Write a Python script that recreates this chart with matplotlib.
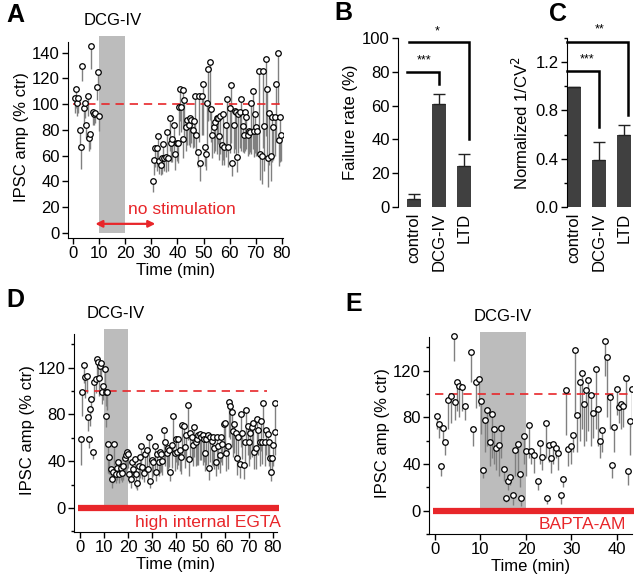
import numpy as np
import matplotlib
matplotlib.use("Agg")
import matplotlib.pyplot as plt
from matplotlib.ticker import MultipleLocator

plt.rcParams['font.family'] = ['Liberation Sans', 'DejaVu Sans']
plt.rcParams['font.size'] = 12

RED = '#e8262a'
SHADE = '#bcbcbc'
BAR = '#404040'
STEM = '#808080'

# ---- panel A: IPSC amplitude, DCG-IV then no stimulation
tA = [0.5, 1, 1.5, 2, 2.5, 3, 3.5, 4, 4.5, 5,
      5.5, 6, 6.5, 7, 7.5, 8, 8.5, 9, 9.5, 10,
      30.5, 31, 31.5, 32, 32.5, 33, 33.5, 34, 34.6, 35,
      35.6, 36, 36.5, 37.2, 37.7, 38, 38.7, 39, 39.7, 40.2,
      40.7, 41, 41.5, 42, 42.3, 42.7, 43.2, 43.8, 44.3, 44.8,
      45.3, 45.8, 46.3, 46.8, 47.3, 47.8, 48.3, 48.8, 49.4, 49.9,
      50.4, 50.9, 51.4, 51.9, 52.4, 52.9, 53.4, 54, 54.5, 55,
      55.5, 56, 56.5, 57, 57.5, 58, 58.6, 59, 59.5, 60,
      60.6, 61, 61.6, 62, 62.6, 63, 63.3, 63.9, 64.4, 65,
      65.4, 66, 66.4, 67, 67.5, 68, 68.4, 69, 69.5, 69.7,
      70.2, 70.7, 71.3, 71.7, 72.3, 72.8, 73.3, 73.8, 74.3, 74.8,
      75.3, 75.8, 76.3, 76.8, 77.3, 77.9, 78.4, 78.9, 79.4, 79.9]
vA = [105, 112, 101, 105, 80, 67, 130, 97, 101, 84,
      106, 74, 77, 145, 94, 92, 93, 113, 125, 91,
      40, 57, 66, 66, 75, 56, 53, 58, 69, 58,
      59, 78, 58, 89, 70, 73, 84, 61, 70, 70,
      98, 112, 98, 111, 73, 103, 82, 88, 84, 89,
      88, 80, 87, 106, 76, 63, 106, 54, 106, 116,
      67, 61, 101, 127, 133, 96, 76, 82, 86, 89,
      89, 75, 91, 68, 92, 67, 84, 104, 67, 97,
      115, 54, 84, 95, 94, 59, 92, 94, 104, 83,
      76, 94, 90, 76, 79, 78, 101, 110, 79, 92,
      82, 79, 126, 61, 60, 126, 83, 135, 112, 58,
      93, 60, 90, 82, 90, 116, 140, 72, 90, 76]
eA = [12, 15, 10, 12, 12, 17, 12, 14, 12, 10,
      15, 10, 12, 18, 10, 8, 8, 10, 10, 12,
      8, 12, 15, 18, 20, 10, 8, 12, 14, 10,
      12, 20, 10, 25, 15, 18, 20, 12, 14, 16,
      22, 25, 20, 30, 15, 28, 18, 20, 16, 22,
      18, 14, 20, 30, 15, 12, 35, 14, 30, 40,
      15, 12, 35, 40, 45, 25, 18, 20, 22, 28,
      20, 18, 30, 15, 35, 14, 25, 40, 16, 35,
      45, 10, 22, 30, 35, 12, 30, 28, 40, 20,
      14, 30, 25, 16, 18, 15, 40, 45, 20, 30,
      22, 18, 64, 20, 22, 60, 35, 60, 55, 22,
      40, 20, 35, 25, 30, 45, 40, 20, 35, 20]

# ---- panels B and C
groups = ['control', 'DCG-IV', 'LTD']
fail_rate = [5, 61, 24]
fail_err = [2.5, 6, 7.5]
inv_cv2 = [0.99, 0.39, 0.60]
inv_cv2_err = [0.005, 0.145, 0.08]

# ---- panel D: high internal EGTA
tD = [0.4, 1, 1.5, 2.2, 2.8, 3.2, 3.6, 4.1, 4.7, 5.4,
      5.9, 6.5, 6.9, 7.6, 8, 8.3, 8.7, 9.1, 9.7, 10.2,
      10.6, 10.8, 11.3, 11.7, 12.1, 12.7, 13.1, 13.8, 14.2, 14.8,
      15.2, 15.9, 16.3, 16.8, 17.4, 17.9, 18.5, 18.9, 19.3, 19.9,
      20.4, 21, 21.5, 22, 22.6, 23.2, 23.7, 24.3, 24.8, 25.4,
      25.9, 26.5, 27, 27.6, 28.1, 28.7, 29.2, 29.8, 30.3, 30.9,
      31.4, 32, 32.6, 33.1, 33.7, 34.2, 34.8, 35.3, 35.9, 36.4,
      37, 37.5, 38.1, 38.6, 39.2, 39.7, 40.3, 40.8, 41.4, 42,
      42.5, 43, 43.6, 44.1, 44.7, 45.2, 45.8, 46.3, 46.9, 47.4,
      48, 48.6, 49.1, 49.7, 50.2, 50.8, 51.3, 51.9, 52.4, 53,
      53.5, 54.1, 54.6, 55.2, 55.7, 56.3, 56.8, 57.4, 58, 58.5,
      59, 59.6, 60.1, 60.7, 61.2, 61.8, 62.3, 62.9, 63.4, 64,
      64.6, 65.1, 65.7, 66.2, 66.8, 67.3, 67.9, 68.4, 69, 69.5,
      70, 70.6, 71.2, 71.7, 72.3, 72.8, 73.4, 73.9, 74.5, 75,
      75.6, 76.1, 76.7, 77.2, 77.8, 78.3, 78.6, 79.2, 79.7, 80,
      80.7, 81]
vD = [59, 99, 122, 112, 113, 78, 59, 85, 93, 48,
      108, 110, 127, 125, 111, 121, 124, 99, 104, 119,
      99, 79, 99, 55, 44, 33, 25, 31, 55, 29,
      34, 39, 29, 34, 30, 36, 43, 45, 48, 46,
      29, 25, 39, 33, 42, 29, 21, 36, 44, 53,
      35, 30, 46, 50, 33, 61, 23, 41, 39, 53,
      31, 46, 39, 48, 46, 40, 67, 56, 47, 51,
      50, 31, 54, 79, 47, 59, 48, 59, 50, 44,
      71, 70, 52, 62, 88, 42, 64, 61, 54, 69,
      56, 59, 62, 63, 61, 62, 59, 47, 59, 62,
      34, 61, 57, 61, 51, 39, 61, 53, 45, 61,
      55, 72, 73, 47, 53, 91, 87, 82, 66, 72,
      64, 43, 61, 38, 80, 64, 37, 56, 84, 70,
      56, 64, 69, 73, 48, 51, 76, 67, 56, 74,
      56, 90, 56, 67, 63, 56, 43, 31, 43, 54,
      90, 65]
eD = [22, 20, 15, 18, 15, 12, 8, 15, 12, 6,
      15, 12, 15, 12, 15, 12, 15, 10, 12, 15,
      12, 10, 15, 25, 15, 10, 8, 10, 18, 8,
      10, 12, 8, 10, 8, 12, 15, 14, 15, 12,
      8, 8, 12, 10, 15, 12, 6, 15, 18, 20,
      10, 8, 15, 18, 10, 25, 6, 15, 12, 20,
      8, 15, 12, 18, 15, 12, 25, 20, 15, 18,
      15, 8, 20, 30, 15, 20, 15, 22, 18, 15,
      25, 25, 18, 20, 30, 15, 22, 20, 18, 25,
      20, 22, 25, 22, 20, 25, 20, 15, 22, 25,
      10, 22, 20, 25, 18, 12, 25, 20, 15, 22,
      18, 25, 28, 15, 20, 30, 28, 30, 22, 25,
      22, 15, 20, 12, 28, 22, 12, 20, 30, 25,
      20, 22, 25, 28, 15, 18, 28, 22, 20, 25,
      18, 30, 20, 22, 20, 20, 15, 8, 15, 18,
      25, 20]

# ---- panel E: BAPTA-AM
tE = [0.4, 0.9, 1.3, 1.8, 2.3, 2.9, 3.5, 4.1, 4.4, 4.9,
      5.4, 5.9, 6.5, 7.9, 8.4, 9, 9.6, 10.1, 10.5, 11,
      11.5, 12.1, 12.6, 13, 13.4, 14, 14.6, 15.1, 15.6, 16,
      16.5, 17.1, 17.6, 18.2, 18.6, 19, 19.6, 20.1, 20.7, 21.2,
      21.7, 22.6, 23.1, 23.6, 24.3, 24.6, 25.1, 25.6, 26, 26.6,
      27.1, 27.6, 28.2, 28.8, 29.2, 29.8, 30.3, 30.8, 31.3, 31.8,
      32.3, 32.8, 33.2, 33.7, 34.3, 34.8, 35.4, 35.9, 36.3, 36.8,
      37.4, 37.9, 38.4, 38.9, 39.4, 39.9, 40.4, 40.9, 41.4, 41.9,
      42.4, 42.9, 43.4]
vE = [81, 74, 38, 71, 59, 95, 98, 150, 93, 110,
      107, 106, 90, 136, 70, 110, 113, 94, 35, 78,
      86, 59, 83, 70, 54, 56, 71, 36, 11, 25,
      29, 13, 52, 57, 31, 11, 64, 51, 73, 51,
      48, 25, 58, 46, 75, 11, 56, 45, 57, 54,
      49, 13, 27, 103, 53, 55, 65, 138, 82, 110,
      118, 91, 103, 112, 99, 84, 121, 87, 60, 69,
      145, 132, 97, 39, 72, 104, 89, 91, 90, 114,
      34, 77, 104]
eE = [11, 12, 8, 13, 11, 25, 23, 22, 15, 25,
      27, 21, 12, 26, 15, 22, 23, 28, 7, 28,
      31, 21, 38, 30, 19, 26, 26, 11, 4, 7,
      7, 8, 22, 27, 11, 7, 24, 21, 28, 11,
      16, 7, 18, 11, 30, 5, 14, 13, 17, 9,
      14, 7, 7, 38, 15, 15, 15, 58, 32, 50,
      48, 36, 43, 44, 44, 22, 51, 32, 15, 19,
      30, 52, 27, 11, 22, 22, 14, 21, 18, 24,
      12, 29, 32]

W, H = 640, 580
fig = plt.figure(figsize=(W / 100, H / 100), dpi=100)


def px_axes(l, t, r, b):
    return fig.add_axes([l / W, 1 - b / H, (r - l) / W, (b - t) / H])


def style(ax, bottom=True):
    for s in ['top', 'right']:
        ax.spines[s].set_visible(False)
    if not bottom:
        ax.spines['bottom'].set_visible(False)
    ax.tick_params(direction='out', length=4, width=1, pad=2)
    ax.tick_params(which='minor', direction='out', length=2.5, width=1)


def timecourse(ax, t, v, e):
    t = np.array(t)
    v = np.array(v)
    e = np.array(e)
    ax.vlines(t, v - e, v, color=STEM, lw=1.0, zorder=2)
    ax.plot(t, v, 'o', ms=4.0, mfc='white', mec='black', mew=0.9, zorder=3)


# ---------------- A
axA = px_axes(68, 36, 283, 238)
style(axA)
axA.set_xlim(-2, 80.5)
axA.set_ylim(-4, 153)
axA.spines['left'].set_bounds(-4, 148)
axA.axvspan(10, 20, ymin=4 / 157, ymax=1, color=SHADE, lw=0, zorder=1)
axA.plot([0, 80], [100, 100], color=RED, lw=1.2, ls=(0, (5, 3.5)), zorder=2.5)
timecourse(axA, tA, vA, eA)
axA.annotate('', xy=(8.5, 7), xytext=(31.5, 7),
             arrowprops=dict(arrowstyle='<|-|>', color=RED, lw=1.6,
                             mutation_scale=10, shrinkA=0, shrinkB=0))
axA.text(21, 18, 'no stimulation', color=RED, fontsize=12.5, va='center', ha='left')
axA.text(15, 165, 'DCG-IV', ha='center', va='center', fontsize=12)
axA.set_xticks(range(0, 81, 10))
axA.set_yticks(range(0, 141, 20))
axA.set_xlabel('Time (min)', labelpad=1)
axA.set_ylabel('IPSC amp (% ctr)', labelpad=2)
fig.text(15 / W, 1 - 15 / H, 'A', fontsize=18, fontweight='bold', ha='center', va='center')


# ---------------- B and C
def bars(ax, vals, errs):
    x = np.arange(len(groups))
    ax.bar(x, vals, width=0.58, color=BAR, zorder=2)
    ax.errorbar(x, vals, yerr=[np.zeros(len(vals)), errs], fmt='none',
                ecolor='#222222', elinewidth=1, capsize=4.5, capthick=1, zorder=3)
    ax.set_xticks(x)
    ax.set_xticklabels(groups, rotation=90)
    ax.tick_params(axis='x', length=0, pad=4)


def bracket(ax, x0, x1, ytop, ydrop, label, ylab, xlab):
    ax.plot([x0, x1, x1], [ytop, ytop, ydrop], color='black', lw=1.8,
            clip_on=False, solid_joinstyle='miter')
    ax.text(xlab, ylab, label, ha='center', va='center', fontsize=9)


axB = px_axes(398, 38, 476, 207)
style(axB, bottom=False)
axB.set_xlim(-0.64, 2.48)
axB.set_ylim(0, 100)
bars(axB, fail_rate, fail_err)
axB.set_yticks(range(0, 101, 20))
axB.set_ylabel('Failure rate (%)', labelpad=3)
bracket(axB, -0.28, 1.0, 80, 73, '***', 87, 0.4)
bracket(axB, -0.2, 2.22, 97.5, 40, '*', 104, 0.92)
fig.text(343 / W, 1 - 13 / H, 'B', fontsize=18, fontweight='bold', ha='center', va='center')

axC = px_axes(567, 38, 637, 207)
style(axC, bottom=False)
axC.set_xlim(-0.28, 2.52)
axC.set_ylim(0, 1.4)
bars(axC, inv_cv2, inv_cv2_err)
axC.set_yticks([0.0, 0.4, 0.8, 1.2])
axC.yaxis.set_minor_locator(MultipleLocator(0.2))
axC.set_yticklabels(['0.0', '0.4', '0.8', '1.2'])
axC.set_ylabel('Normalized 1/CV$^2$', labelpad=3)
bracket(axC, -0.28, 1.0, 1.125, 0.66, '***', 1.22, 0.52)
bracket(axC, -0.28, 2.16, 1.37, 0.76, '**', 1.47, 1.04)
fig.text(558 / W, 1 - 14 / H, 'C', fontsize=18, fontweight='bold', ha='center', va='center')


# ---------------- D and E
def drug_panel(ax, t, v, e, xmax, ylo, label, bar_end, text_x):
    style(ax)
    ax.set_ylim(ylo, 153)
    ax.spines['left'].set_bounds(ylo, 149)
    ax.axvspan(10, 20, ymin=(0 - ylo) / (153 - ylo), ymax=1, color=SHADE, lw=0, zorder=1)
    ax.plot([0, xmax], [100, 100], color=RED, lw=1.2, ls=(0, (5, 3.5)), zorder=2.5)
    timecourse(ax, t, v, e)
    ax.plot([-0.8 * (bar_end / 80), bar_end], [0, 0], color=RED, lw=4.5,
            solid_capstyle='butt', clip_on=False, zorder=4)
    ax.text(text_x, -12, label, color=RED, ha='right', va='center', fontsize=12.5)
    ax.set_yticks([0, 40, 80, 120])
    ax.yaxis.set_minor_locator(MultipleLocator(20))
    ax.set_xlabel('Time (min)', labelpad=1)
    ax.set_ylabel('IPSC amp (% ctr)', labelpad=2)
    ax.text(15, 166, 'DCG-IV', ha='center', va='center', fontsize=12)


axD = px_axes(74, 329, 277, 532)
axD.set_xlim(-2.5, 81.7)
drug_panel(axD, tD, vD, eD, 77.5, -20.5, 'high internal EGTA', 82.5, 83.5)
axD.set_xticks(range(0, 81, 10))
fig.text(15 / W, 1 - 300 / H, 'D', fontsize=18, fontweight='bold', ha='center', va='center')

axE = px_axes(429, 332, 632, 534)
axE.set_xlim(-1.3, 43.3)
drug_panel(axE, tE, vE, eE, 43, -20, 'BAPTA-AM', 43.8, 42)
axE.set_xticks(range(0, 41, 10))
fig.text(354 / W, 1 - 304 / H, 'E', fontsize=18, fontweight='bold', ha='center', va='center')

fig.savefig('out.png', dpi=100)
